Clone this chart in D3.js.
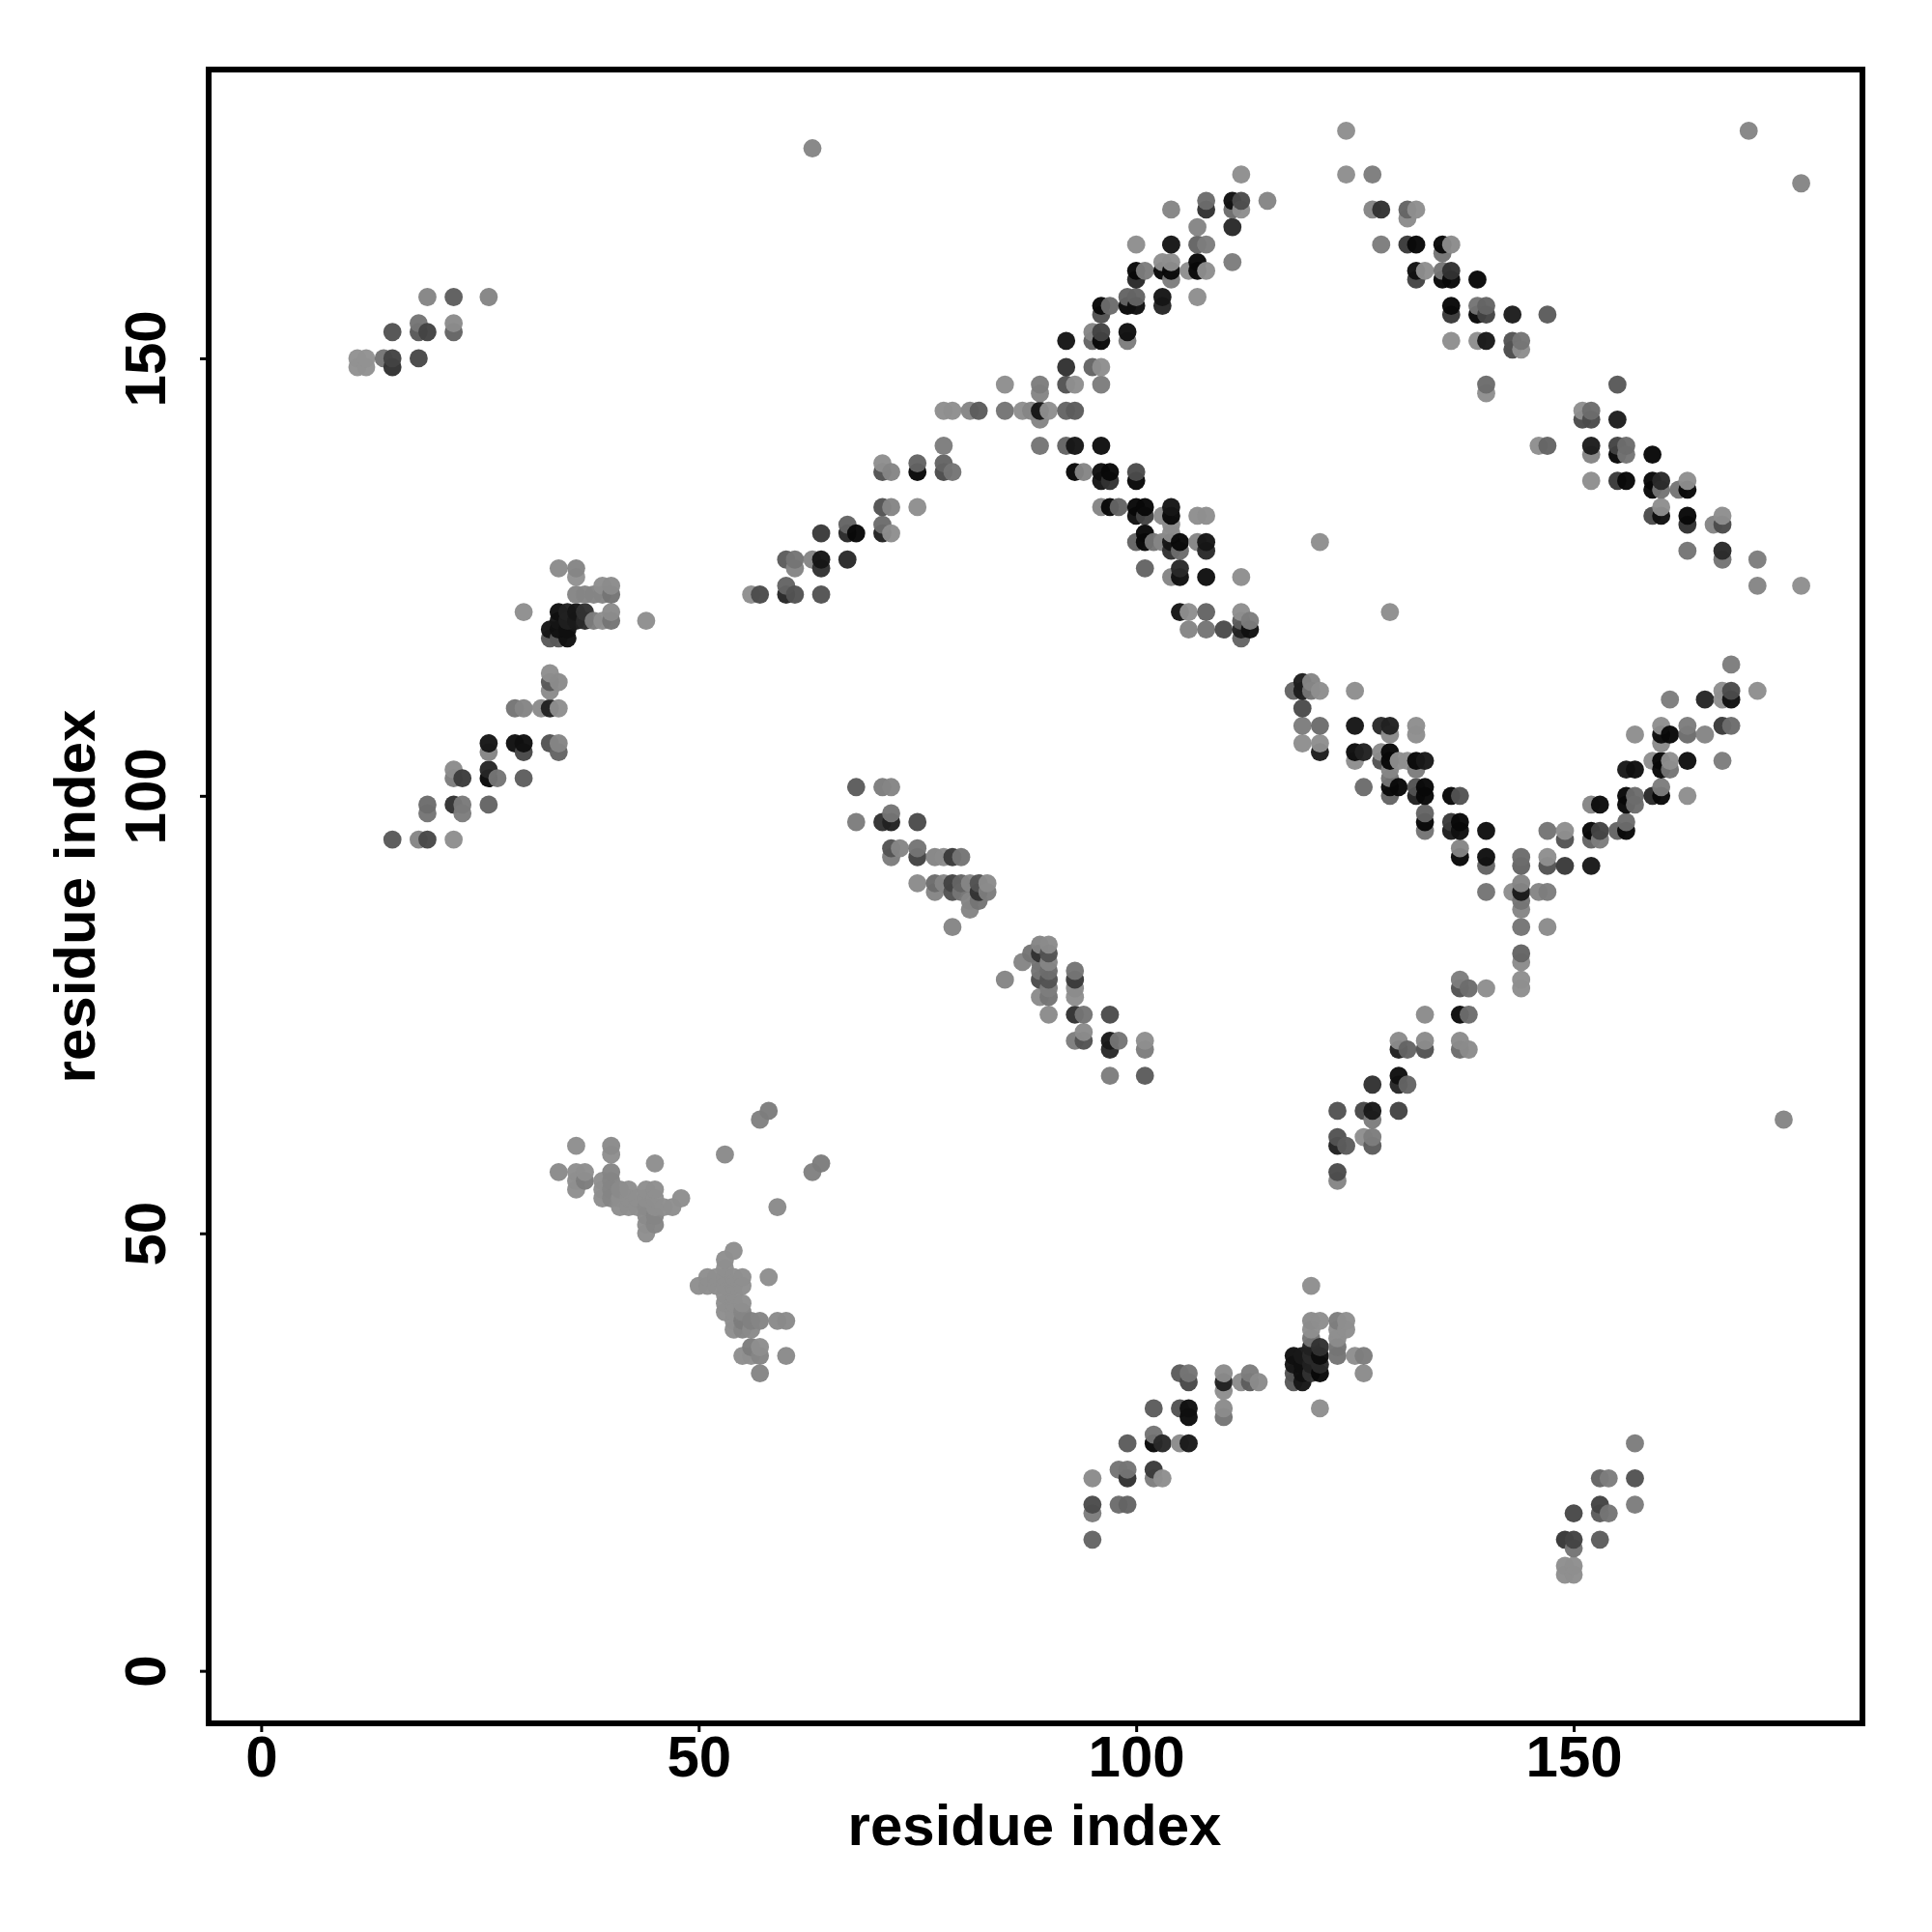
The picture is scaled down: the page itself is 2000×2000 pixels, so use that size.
<!DOCTYPE html>
<html><head><meta charset="utf-8">
<script src="https://cdn.jsdelivr.net/npm/d3@7"></script>
<style>html,body{margin:0;background:#fff}svg{display:block}</style>
</head><body><div id="chart"></div>
<script>
// [residue x, residue y, observed grey level 0-140]
const topLeftStrand=[[19,157,128],[22,157,90],[26,157,128],[15,153,80],[18,154,112],[18,153,85],[19,153,64],[22,154,133],[22,153,96],[11,150,140],[12,150,140],[11,149,140],[12,149,140],[14,150,112],[15,150,64],[15,149,48],[18,150,69]];
const midLeftCluster=[[34,126,133],[36,126,128],[36,125,140],[39,124,136],[40,124,133],[36,123,128],[37,123,128],[38,123,128],[39,123,128],[40,123,112],[30,121,136],[34,121,16],[35,121,32],[36,121,21],[37,121,48],[40,121,133],[34,120,20],[35,120,30],[36,120,25],[37,120,40],[38,120,120],[39,120,136],[40,120,112],[44,120,136],[33,119,21],[34,119,16],[35,119,16],[33,118,85],[34,118,85],[35,118,16],[33,114,136],[33,113,85],[34,113,133],[33,112,133],[29,110,112],[30,110,128],[32,110,133],[33,110,32],[34,110,136],[26,106,21],[29,106,16],[30,106,16],[33,106,80],[34,106,128],[26,105,128],[30,105,69],[34,105,96],[22,103,133],[26,103,37],[22,102,120],[23,102,58],[26,102,5],[27,102,112],[30,102,90],[19,99,104],[22,99,48],[23,99,117],[26,99,96],[19,98,112],[23,98,120],[15,95,85],[18,95,128],[19,95,69],[22,95,136]];
const upperDiagonal=[[112,171,136],[108,168,104],[111,168,16],[112,168,72],[115,168,128],[104,167,128],[108,167,48],[111,167,104],[112,167,136],[107,165,128],[111,165,40],[100,163,136],[104,163,21],[107,163,96],[108,163,120],[103,161,136],[104,161,136],[107,161,5],[111,161,120],[100,160,0],[101,160,120],[103,160,5],[104,160,5],[106,160,136],[107,160,5],[108,160,136],[100,159,40],[104,159,120],[99,157,96],[100,157,96],[103,157,21],[107,157,136],[96,156,5],[97,156,104],[99,156,5],[100,156,16],[103,156,37],[96,155,80],[95,153,128],[96,153,64],[99,153,16],[92,152,21],[95,152,96],[96,152,5],[99,152,120],[92,149,48],[95,149,96],[96,149,136],[85,147,136],[89,147,120],[92,147,80],[93,147,136],[96,147,120],[89,146,128],[78,144,136],[79,144,136],[81,144,128],[82,144,88],[85,144,112],[87,144,136],[88,144,128],[89,144,21],[90,144,136],[92,144,96],[93,144,88],[89,143,128],[78,140,120],[89,140,112],[92,140,96],[93,140,21],[96,140,16],[71,138,136],[75,138,96],[78,138,96],[71,137,80],[72,137,128],[75,137,5],[78,137,72],[79,137,112],[93,137,0],[94,137,128],[96,137,16],[97,137,0],[100,137,72],[96,136,21],[97,136,48],[100,136,0],[71,133,80],[72,133,128],[75,133,136],[96,133,128],[97,133,0],[98,133,96],[100,133,0],[101,133,0],[104,133,21],[100,132,16],[101,132,64],[103,132,133],[104,132,0],[107,132,136],[108,132,136],[67,131,96],[71,131,104],[104,131,133],[64,130,56],[67,130,40],[68,130,5],[71,130,32],[72,130,136],[101,130,0],[104,130,133],[100,129,96],[101,129,0],[102,129,112],[103,129,128],[104,129,21],[105,129,0],[107,129,128],[108,129,21],[104,128,48],[105,128,104],[108,128,40],[60,127,88],[61,127,112],[63,127,128],[64,127,21],[67,127,40],[61,126,128],[64,126,48],[101,126,96],[105,126,40],[104,125,128],[105,125,16],[108,125,16],[112,125,136],[60,124,96],[56,123,136],[57,123,72],[60,123,37],[61,123,80],[64,123,80],[105,121,21],[106,121,136],[108,121,96],[112,121,136],[113,120,120],[112,120,88],[106,119,128],[108,119,112],[110,119,72],[112,119,32],[113,119,16],[112,118,96],[63,174,128]];
const upperRightStrand=[[124,176,136],[170,176,128],[124,171,136],[127,171,120],[176,170,128],[127,167,128],[128,167,48],[131,167,96],[132,167,136],[131,166,133],[128,163,120],[131,163,56],[132,163,0],[135,163,5],[136,163,133],[135,162,112],[132,160,16],[133,160,136],[135,160,112],[136,160,48],[132,159,64],[135,159,5],[136,159,5],[139,159,5],[136,156,0],[139,156,112],[140,156,96],[136,155,56],[139,155,0],[140,155,64],[143,155,28],[147,155,88],[136,152,136],[139,152,136],[140,152,24],[143,152,80],[144,152,112],[143,151,72],[144,151,136],[140,147,104],[155,147,85],[140,146,136],[151,144,136],[152,144,104],[151,143,72],[152,143,72],[155,143,28],[146,140,136],[147,140,96],[152,140,28],[155,140,64],[156,140,104],[152,139,128],[155,139,5],[156,139,112],[159,139,5],[152,136,136],[155,136,56],[156,136,0],[159,136,0],[160,136,40],[163,136,136],[159,135,0],[160,135,112],[162,135,112],[163,135,0],[160,133,136],[159,132,72],[160,132,16],[163,132,0],[167,132,136],[163,131,48],[166,131,128],[167,131,72],[121,129,136],[163,128,112],[167,128,40],[167,127,112],[171,127,120],[171,124,128],[176,124,136]];
const lowerRightV=[[129,121,136],[118,112,96],[119,112,28],[120,112,112],[121,112,136],[125,112,136],[119,113,28],[120,113,128],[119,110,72],[119,108,120],[121,108,104],[125,108,21],[128,108,40],[129,108,32],[132,108,136],[129,107,133],[132,107,136],[119,106,136],[121,106,136],[121,105,28],[125,105,12],[126,105,32],[128,105,133],[129,105,0],[125,104,136],[128,104,80],[129,104,0],[130,104,136],[131,104,136],[132,104,5],[133,104,24],[129,103,128],[132,103,120],[129,102,112],[126,101,104],[129,101,5],[130,101,5],[132,101,80],[133,101,0],[129,100,96],[132,100,32],[133,100,0],[136,100,5],[137,100,80],[133,98,96],[133,97,5],[136,97,56],[137,97,0],[133,96,112],[136,96,28],[137,96,16],[140,96,16],[137,94,128],[137,93,0],[140,93,16],[140,92,96],[140,89,112],[168,115,120],[167,112,136],[168,112,72],[171,112,136],[161,111,120],[165,111,37],[167,111,136],[168,111,16],[160,108,136],[163,108,120],[167,108,56],[168,108,104],[157,107,136],[160,107,12],[161,107,0],[163,107,104],[165,107,128],[160,106,133],[159,104,136],[160,104,0],[161,104,136],[163,104,16],[167,104,120],[156,103,24],[157,103,16],[160,103,5],[161,103,112],[160,101,120],[156,100,0],[157,100,104],[159,100,40],[160,100,0],[163,100,136],[152,99,128],[153,99,12],[156,99,5],[157,99,104],[156,97,104],[147,96,112],[149,96,136],[152,96,5],[153,96,64],[155,96,96],[156,96,5],[149,95,80],[152,95,96],[153,95,120],[144,93,104],[147,93,136],[144,92,96],[147,92,80],[149,92,56],[152,92,24],[144,90,128],[143,89,136],[144,89,24],[146,89,128],[147,89,120],[144,88,112],[144,87,128],[144,85,112],[147,85,133],[144,82,96],[144,81,133],[137,79,120],[144,79,136],[137,78,80],[138,78,104],[140,78,136],[144,78,136],[133,75,133],[137,75,12],[138,75,104],[130,72,133],[133,72,133],[137,72,133],[130,71,32],[131,71,96],[133,71,80],[137,71,104],[138,71,133],[130,68,16],[127,67,48],[130,67,37],[131,67,96],[123,64,80],[126,64,69],[127,64,24],[130,64,64],[127,63,120],[174,63,128],[123,61,80],[126,61,136],[127,61,120],[123,60,32],[124,60,88],[127,60,88],[123,57,72],[123,56,128]];
const centreStrand=[[68,101,88],[71,101,120],[72,101,128],[68,97,120],[71,97,48],[72,97,32],[75,97,72],[72,98,112],[72,94,80],[73,94,128],[75,94,112],[72,93,120],[75,93,64],[77,93,128],[78,93,133],[79,93,56],[80,93,112],[75,90,133],[77,90,104],[78,90,128],[79,90,64],[80,90,96],[81,90,128],[82,90,80],[83,90,133],[77,89,128],[79,89,80],[80,89,112],[82,89,48],[83,89,120],[81,88,128],[82,88,112],[81,87,128],[79,85,128],[89,83,128],[90,83,133],[88,82,112],[89,82,48],[90,82,80],[87,81,128],[89,81,112],[90,81,128],[93,80,112],[89,80,112],[90,80,104],[85,79,128],[89,79,72],[90,79,80],[93,79,56],[90,78,120],[93,78,133],[89,77,133],[90,77,112],[93,77,136],[90,75,133],[93,75,48],[94,75,112],[97,75,72],[94,73,133],[93,72,120],[94,72,80],[97,72,24],[98,72,112],[101,72,136],[97,71,40],[101,71,120],[97,68,120],[101,68,88]];
const lightCluster=[[58,64,120],[57,63,124],[64,58,120],[63,57,124],[36,60,136],[40,60,132],[40,59,136],[53,59,132],[45,58,136],[34,57,132],[36,57,136],[37,57,136],[40,57,128],[36,56,136],[37,56,120],[36,55,136],[39,56,136],[40,56,128],[39,55,136],[40,55,128],[41,55,132],[42,55,136],[44,55,136],[45,55,136],[39,54,136],[40,54,128],[41,54,136],[42,54,136],[43,54,136],[44,54,136],[45,54,136],[48,54,136],[41,53,136],[42,53,136],[43,53,136],[44,53,132],[45,53,136],[46,53,136],[47,53,136],[59,53,132],[44,52,132],[45,52,128],[44,51,136],[45,51,128],[44,50,136],[54,48,136],[53,47,136],[53,46,136],[51,45,136],[52,45,136],[53,45,136],[54,45,136],[55,45,136],[58,45,136],[50,44,136],[51,44,136],[52,44,136],[53,44,136],[54,44,136],[55,44,136],[53,43,136],[54,43,136],[53,42,136],[54,42,136],[55,42,136],[53,41,136],[54,41,136],[55,41,128],[54,40,136],[55,40,120],[56,40,124],[57,40,128],[59,40,132],[60,40,132],[54,39,136],[55,39,128],[56,39,132],[56,37,120],[57,37,136],[55,36,136],[56,36,136],[57,36,128],[60,36,132],[57,34,128]];
const lowerStrand=[[120,44,136],[120,40,133],[121,40,136],[123,40,120],[124,40,136],[120,39,136],[123,39,136],[124,39,136],[120,38,112],[123,38,133],[120,37,32],[121,37,48],[123,37,112],[118,36,16],[119,36,24],[120,36,40],[121,36,12],[123,36,112],[125,36,136],[126,36,120],[118,35,21],[119,35,16],[120,35,32],[121,35,40],[105,34,88],[106,34,112],[110,34,133],[113,34,120],[118,34,80],[119,34,16],[120,34,48],[121,34,5],[126,34,133],[106,33,69],[110,33,32],[112,33,133],[113,33,88],[114,33,133],[118,33,85],[119,33,21],[110,32,136],[102,30,88],[105,30,80],[106,30,16],[110,30,133],[121,30,136],[106,29,12],[110,29,112],[102,27,112],[99,26,88],[102,26,0],[103,26,40],[105,26,133],[106,26,24],[98,23,112],[99,23,112],[102,23,56],[95,22,133],[99,22,48],[102,22,120],[103,22,136],[95,19,72],[98,19,104],[99,19,96],[95,18,120],[95,15,96]];
const bottomRightStrand=[[157,26,120],[153,22,96],[154,22,120],[157,22,80],[153,19,64],[157,19,120],[150,18,69],[153,18,88],[154,18,112],[149,15,53],[150,15,64],[153,15,88],[150,14,112],[149,12,136],[150,12,136],[149,11,136],[150,11,136]];
const axisTicks=[0,50,100,150];
const axisTitle="residue index";

const pageSize=2000, plotLeft=216, plotRight=1928, plotTop=72, plotBottom=1784;
const x=d3.scaleLinear().domain([-6,183]).range([plotLeft,plotRight]);
const y=d3.scaleLinear().domain([-6,183]).range([plotBottom,plotTop]);
const observedGrey=d3.scaleLinear().domain([8,140]).range([8,146]).clamp(true);
const fontFamily='"Liberation Sans",Arial,sans-serif';

const points=[topLeftStrand,midLeftCluster,upperDiagonal,upperRightStrand,lowerRightV,centreStrand,lightCluster,lowerStrand,bottomRightStrand]
  .flat().sort((a,b)=>d3.ascending(a[0],b[0])||d3.ascending(a[1],b[1]));

const svg=d3.select("#chart").append("svg").attr("width",pageSize).attr("height",pageSize);
svg.append("rect").attr("width",pageSize).attr("height",pageSize).attr("fill","#fff");

svg.append("g").selectAll("circle").data(points).join("circle")
  .attr("cx",d=>x(d[0])).attr("cy",d=>y(d[1])).attr("r",9.4)
  .attr("fill",d=>{const g=Math.round(observedGrey(d[2]));return `rgb(${g},${g},${g})`;})
  .attr("fill-opacity",0.97);

svg.append("rect").attr("x",plotLeft).attr("y",plotTop).attr("width",plotRight-plotLeft).attr("height",plotBottom-plotTop)
  .attr("fill","none").attr("stroke","#000").attr("stroke-width",6);

const xAxis=svg.append("g").attr("transform",`translate(0,${plotBottom})`)
  .call(d3.axisBottom(x).tickValues(axisTicks).tickSize(9).tickFormat(d3.format("d")));
const yAxis=svg.append("g").attr("transform",`translate(${plotLeft},0)`)
  .call(d3.axisLeft(y).tickValues(axisTicks).tickSize(9).tickFormat(d3.format("d")));
[xAxis,yAxis].forEach(a=>{
  a.select(".domain").remove();
  a.selectAll(".tick line").attr("stroke","#000").attr("stroke-width",3);
  a.selectAll(".tick text").attr("fill","#000").attr("font-family",fontFamily)
    .attr("font-weight","bold").attr("font-size",60);
});
xAxis.selectAll(".tick text").attr("y",55).attr("dy",0).attr("text-anchor","middle");
yAxis.selectAll(".tick text").attr("x",0).attr("y",0).attr("dy",0).attr("text-anchor","middle")
  .attr("transform","translate(-45,0) rotate(-90)");

svg.append("text").attr("x",(plotLeft+plotRight)/2-1).attr("y",1910).attr("text-anchor","middle")
  .attr("font-family",fontFamily).attr("font-weight","bold").attr("font-size",60).text(axisTitle);
svg.append("text").attr("transform",`translate(98,${(plotTop+plotBottom)/2}) rotate(-90)`).attr("text-anchor","middle")
  .attr("font-family",fontFamily).attr("font-weight","bold").attr("font-size",60).text(axisTitle);
</script></body></html>
